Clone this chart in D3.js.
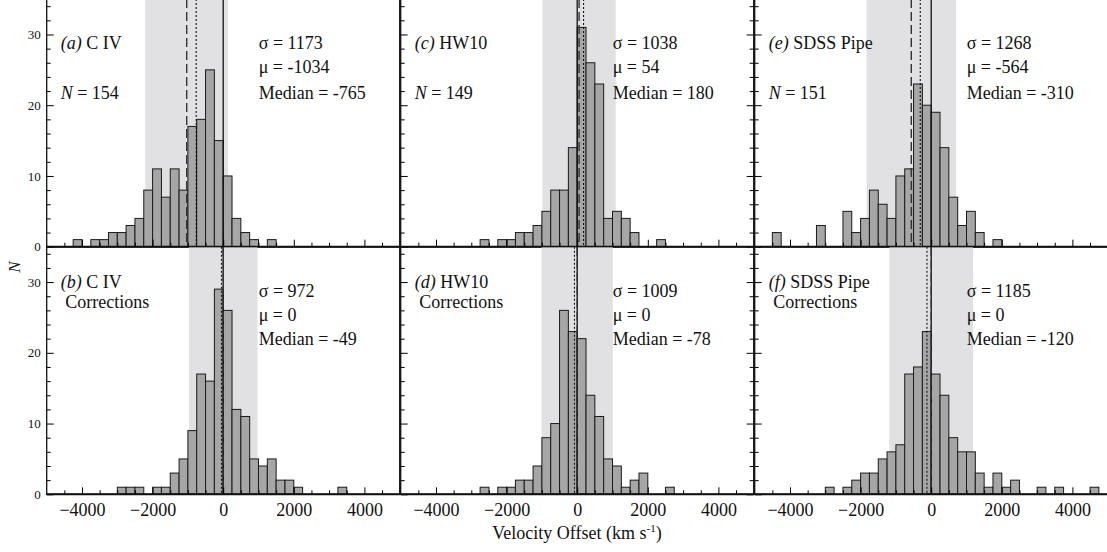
<!DOCTYPE html>
<html>
<head>
<meta charset="utf-8">
<script src="https://cdn.jsdelivr.net/npm/d3@7"></script>
<style>
  html, body { margin: 0; padding: 0; background: #fff; }
  svg { display: block; }
</style>
</head>
<body>
<svg id="chart" width="1107" height="552"></svg>
<script>
// Histogram bins: left edge of each 250 km/s bin and the number of objects in it.
const binWidth = 250;

const civBinStart = [-4250,-3750,-3500,-3250,-3000,-2750,-2500,-2250,-2000,-1750,-1500,-1250,-1000,-750,-500,-250,0,250,500,750,1250];
const civCounts   = [1,1,1,2,2,3,4,8,11,7,11,8,17,18,25,15,10,4,2,1,1];

const civCorrBinStart = [-3000,-2750,-2500,-2000,-1750,-1500,-1250,-1000,-750,-500,-250,0,250,500,750,1000,1250,1500,1750,2000,3250];
const civCorrCounts   = [1,1,1,1,1,3,5,9,17,16,29,26,12,11,5,4,5,2,2,1,1];

const hwBinStart = [-2750,-2250,-2000,-1750,-1500,-1250,-1000,-750,-500,-250,0,250,500,750,1000,1250,1500,2250];
const hwCounts   = [1,1,1,2,2,3,5,8,8,14,31,26,23,4,5,4,2,1];

const hwCorrBinStart = [-2750,-2250,-2000,-1750,-1500,-1250,-1000,-750,-500,-250,0,250,500,750,1000,1250,1500,1750,2500];
const hwCorrCounts   = [1,1,1,2,2,4,8,10,26,23,22,14,11,5,4,1,2,3,1];

const sdssBinStart = [-4500,-3250,-2500,-2250,-2000,-1750,-1500,-1250,-1000,-750,-500,-250,0,250,500,750,1000,1250,1750];
const sdssCounts   = [2,3,5,2,4,8,6,4,10,11,23,20,19,14,7,3,5,2,1];

const sdssCorrBinStart = [-3000,-2500,-2250,-2000,-1750,-1500,-1250,-1000,-750,-500,-250,0,250,500,750,1000,1250,1500,1750,2000,2250,3000,3500,4500];
const sdssCorrCounts   = [1,1,2,3,3,5,6,7,17,18,23,17,14,8,6,6,3,1,3,1,2,1,1,1];

// Panel annotations, in order (a)..(f)
const panelTags   = ["(a)", "(b)", "(c)", "(d)", "(e)", "(f)"];
const panelNames  = ["C IV", "C IV", "HW10", "HW10", "SDSS Pipe", "SDSS Pipe"];
const panelSub    = ["", "Corrections", "", "Corrections", "", "Corrections"];
const sampleSizes = [154, null, 149, null, 151, null];
const sigmas      = [1173, 972, 1038, 1009, 1268, 1185];
const means       = [-1034, 0, 54, 0, -564, 0];
const medians     = [-765, -49, 180, -78, -310, -120];

const xTickLabels = [-4000, -2000, 0, 2000, 4000];
const yTickLabels = [0, 10, 20, 30];

const panelBins = [civBinStart, civCorrBinStart, hwBinStart, hwCorrBinStart, sdssBinStart, sdssCorrBinStart];
const panelCounts = [civCounts, civCorrCounts, hwCounts, hwCorrCounts, sdssCounts, sdssCorrCounts];

const SERIF = '"Liberation Serif", "Times New Roman", Times, serif';

// Layout
const svg = d3.select("#chart");
const plotLeft = 46.7, panelW = 353, colStep = 354;
const rowTop = [-0.9, 246.7], rowH = 247.6;

const barFill = "#a6a6a6", bandFill = "#e1e1e4";

function label(x, y, size) {
  return svg.append("text").attr("x", x).attr("y", y)
    .style("font-family", SERIF).style("font-size", size + "px").style("fill", "#111");
}

panelTags.forEach((tag, i) => {
  const col = Math.floor(i / 2), row = i % 2;
  const left = plotLeft + col * colStep;
  const top = rowTop[row], bottom = top + rowH;

  const x = d3.scaleLinear().domain([-5000, 5000]).range([left, left + panelW]);
  const y = d3.scaleLinear().domain([0, 35]).range([bottom, top]);

  const clipId = "clip" + i;
  svg.append("clipPath").attr("id", clipId)
    .append("rect").attr("x", left).attr("y", top).attr("width", panelW).attr("height", rowH);

  const g = svg.append("g").attr("clip-path", `url(#${clipId})`);

  // mean ± sigma band
  g.append("rect")
    .attr("x", x(means[i] - sigmas[i]))
    .attr("y", top)
    .attr("width", x(means[i] + sigmas[i]) - x(means[i] - sigmas[i]))
    .attr("height", rowH)
    .attr("fill", bandFill);

  // histogram bars
  const bins = panelBins[i].map((s, k) => ({ start: s, n: panelCounts[i][k] }));
  g.selectAll("rect.bar").data(bins).enter().append("rect")
    .attr("class", "bar")
    .attr("x", d => x(d.start))
    .attr("y", d => y(d.n))
    .attr("width", d => x(d.start + binWidth) - x(d.start))
    .attr("height", d => y(0) - y(d.n))
    .attr("fill", barFill)
    .attr("stroke", "#1a1a1a")
    .attr("stroke-width", 1);

  // reference lines: zero (solid), mean (dashed), median (dotted)
  g.append("line")
    .attr("x1", x(0)).attr("x2", x(0)).attr("y1", top).attr("y2", bottom)
    .attr("stroke", "#111").attr("stroke-width", 1.3);
  g.append("line")
    .attr("x1", x(means[i])).attr("x2", x(means[i])).attr("y1", top).attr("y2", bottom)
    .attr("stroke", "#333").attr("stroke-width", 1.4).attr("stroke-dasharray", "9,4");
  g.append("line")
    .attr("x1", x(medians[i])).attr("x2", x(medians[i])).attr("y1", top).attr("y2", bottom)
    .attr("stroke", "#111").attr("stroke-width", 1.1).attr("stroke-dasharray", "2,2");

  // axes: ticks point inward
  const xMajor = d3.range(-4000, 4001, 2000);
  const xMinor = d3.range(-4500, 4501, 500).filter(v => v % 2000 !== 0);
  const yMajor = d3.range(0, 31, 10);
  const yMinor = d3.range(2, 35, 2).filter(v => v % 10 !== 0);

  const xAx = svg.append("g").attr("transform", `translate(0,${bottom})`)
    .call(d3.axisBottom(x).tickValues(xMajor).tickSize(-7).tickPadding(9)
      .tickFormat(row === 1 ? (d => d < 0 ? "\u2212" + Math.abs(d) : String(d)) : ""));
  xAx.select(".domain").remove();
  xAx.selectAll("text").style("font-size", "18px").style("font-family", SERIF).style("fill", "#111");
  svg.append("g").attr("transform", `translate(0,${bottom})`)
    .call(d3.axisBottom(x).tickValues(xMinor).tickSize(-4).tickFormat(""))
    .select(".domain").remove();

  const yAx = svg.append("g").attr("transform", `translate(${left},0)`)
    .call(d3.axisLeft(y).tickValues(yMajor).tickSize(-7).tickPadding(6)
      .tickFormat(col === 0 ? d3.format("d") : ""));
  yAx.select(".domain").remove();
  yAx.selectAll("text").style("font-size", "13px").style("font-family", SERIF).style("fill", "#111");
  svg.append("g").attr("transform", `translate(${left},0)`)
    .call(d3.axisLeft(y).tickValues(yMinor).tickSize(-4).tickFormat(""))
    .select(".domain").remove();

  if (col === 1) {
    svg.append("g").attr("transform", `translate(${left + panelW},0)`)
      .call(d3.axisRight(y).tickValues(yMajor).tickSize(-7).tickFormat(""))
      .select(".domain").remove();
    svg.append("g").attr("transform", `translate(${left + panelW},0)`)
      .call(d3.axisRight(y).tickValues(yMinor).tickSize(-4).tickFormat(""))
      .select(".domain").remove();
  }

  // frame
  svg.append("rect")
    .attr("x", left).attr("y", top).attr("width", panelW).attr("height", rowH)
    .attr("fill", "none").attr("stroke", "#111").attr("stroke-width", 1.3);
  svg.append("line")
    .attr("x1", left).attr("x2", left + panelW).attr("y1", bottom).attr("y2", bottom)
    .attr("stroke", "#111").attr("stroke-width", 2);

  // annotations
  const fs = 18;
  const labY = row === 0 ? top + 50 : top + 41.6;
  const lab = label(left + 14, labY, fs);
  lab.append("tspan").style("font-style", "italic").text(tag);
  lab.append("tspan").text(" " + panelNames[i]);
  if (panelSub[i]) {
    label(left + 18.6, top + 61.6, fs).text(panelSub[i]);
  }
  if (sampleSizes[i] !== null) {
    const nt = label(left + 14, top + 100, fs);
    nt.append("tspan").style("font-style", "italic").text("N");
    nt.append("tspan").text(" = " + sampleSizes[i]);
  }
  const sx = left + 212;
  const sy = row === 0 ? [top + 50, top + 74, top + 100] : [top + 50, top + 74.3, top + 98.6];
  label(sx, sy[0], fs).text("\u03c3 = " + sigmas[i]);
  label(sx, sy[1], fs).text("\u03bc = " + means[i]);
  label(sx, sy[2], fs).text("Median = " + medians[i]);
});

// axis titles
const xt = label(577, 539, 18).attr("text-anchor", "middle");
xt.append("tspan").text("Velocity Offset (km s");
xt.append("tspan").attr("dy", -7).style("font-size", "11px").text("-1");
xt.append("tspan").attr("dy", 7).text(")");

label(0, 0, 17)
  .attr("x", null).attr("y", null)
  .attr("transform", "translate(20,267) rotate(-90)")
  .attr("text-anchor", "middle")
  .style("font-style", "italic")
  .text("N");
</script>
</body>
</html>
